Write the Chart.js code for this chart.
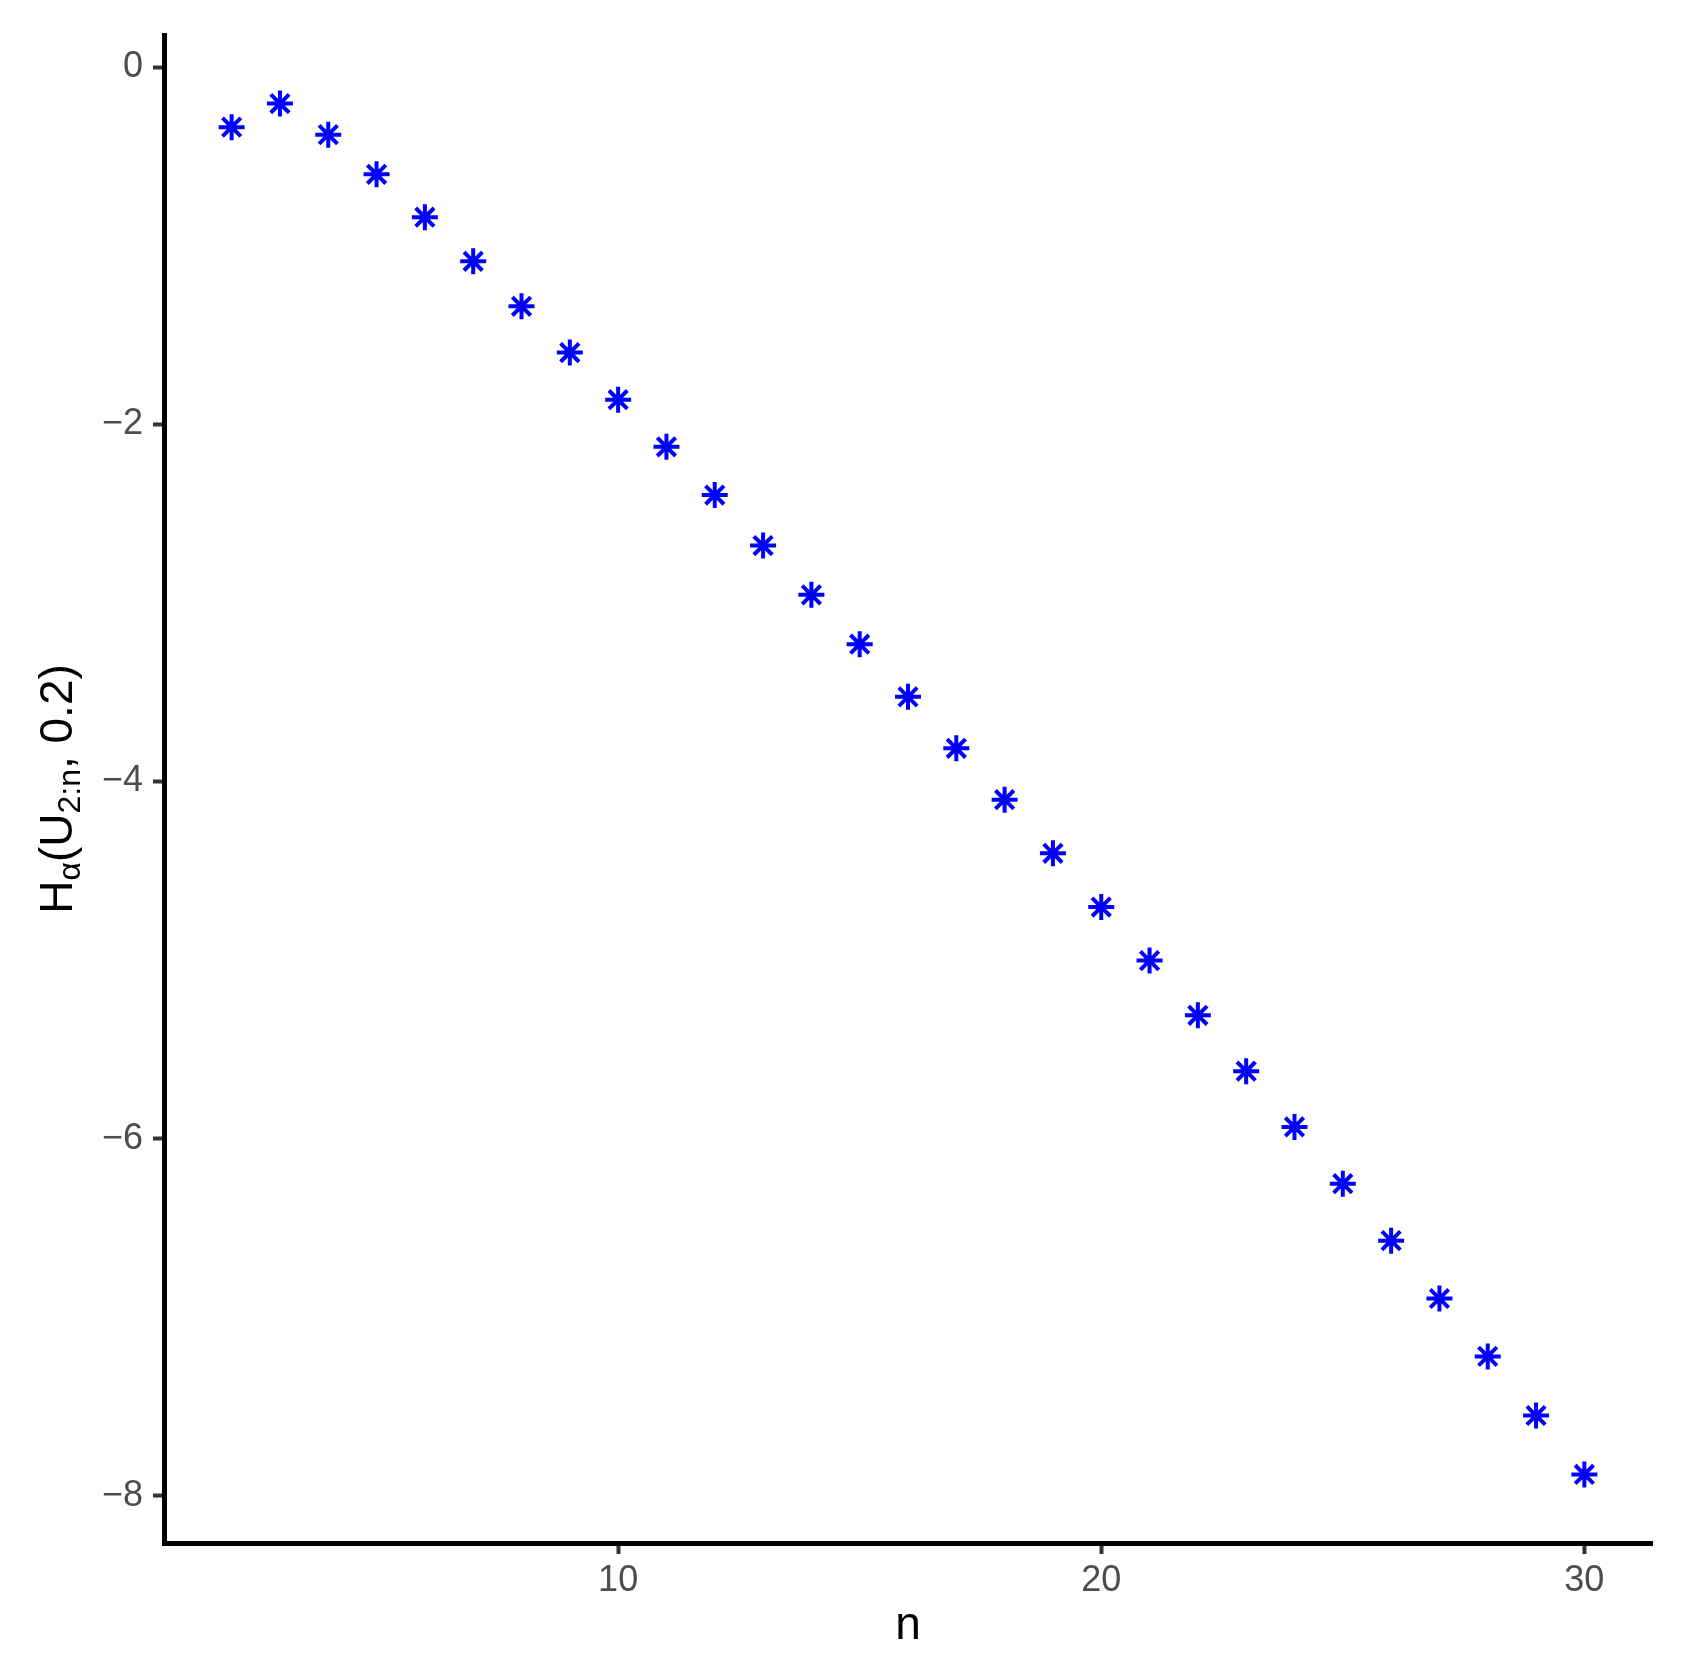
<!DOCTYPE html>
<html>
<head>
<meta charset="utf-8">
<script src="https://cdn.jsdelivr.net/npm/chart.js@4/dist/chart.umd.min.js"></script>
<style>
  html, body { margin:0; padding:0; background:#fff; }
  #wrap { width:1683px; height:1661px; position:relative; }
</style>
</head>
<body>
<div id="wrap"><canvas id="c" width="1683" height="1661"></canvas></div>
<script>
// values
const nValues = [2,3,4,5,6,7,8,9,10,11,12,13,14,15,16,17,18,19,20,21,22,23,24,25,26,27,28,29,30];
const hValues = [-0.336,-0.204,-0.378,-0.600,-0.840,-1.087,-1.339,-1.598,-1.862,-2.126,-2.396,-2.679,-2.955,-3.231,
                 -3.526,-3.814,-4.102,-4.402,-4.703,-5.003,-5.309,-5.622,-5.934,-6.252,-6.571,-6.895,-7.219,-7.550,-7.880];
const xTicks = [10,20,30];
const yTicks = [-8,-6,-4,-2,0];

const FONT = '"Liberation Sans", Arial, Helvetica, sans-serif';

// axis titles (y title has sub-scripts, so drawn by hand)
const titles = {
  id:'titles',
  afterDraw(chart){
    const ctx = chart.ctx, a = chart.chartArea;
    ctx.save();
    ctx.fillStyle = '#000';
    ctx.textBaseline = 'alphabetic';
    ctx.textAlign = 'center';
    ctx.font = '46px ' + FONT;
    ctx.fillText('n', (a.left + a.right)/2, 1639);

    const parts = [['H',46,0],['\u03b1',32,8],['(U',46,0],['2:n',32,8],[', 0.2)',46,0]];
    let total = 0;
    parts.forEach(p => { ctx.font = p[1]+'px '+FONT; p.push(ctx.measureText(p[0]).width); total += p[3]; });
    ctx.translate(72, (a.top + a.bottom)/2);
    ctx.rotate(-Math.PI/2);
    ctx.textAlign = 'left';
    let x = -total/2;
    parts.forEach(p => { ctx.font = p[1]+'px '+FONT; ctx.fillText(p[0], x, p[2]); x += p[3]; });
    ctx.restore();
  }
};

const minus = v => String(v).replace('-', '\u2212');

new Chart(document.getElementById('c'), {
  type:'scatter',
  data:{datasets:[{
    data: nValues.map((n,i)=>({x:n, y:hValues[i]})),
    pointStyle:'star', pointRadius:13, pointHoverRadius:13,
    borderColor:'#0000ff', backgroundColor:'#0000ff', borderWidth:4
  }]},
  options:{
    responsive:false, animation:false, events:[],
    plugins:{legend:{display:false}, tooltip:{enabled:false}},
    layout:{padding:{top:35, right:31, left:0, bottom:0}},
    scales:{
      x:{
        type:'linear', min:0.6, max:31.4,
        afterBuildTicks: s => { s.ticks = xTicks.map(v=>({value:v})); },
        afterFit: s => { s.height = 118; },
        grid:{display:true, drawOnChartArea:false, drawTicks:true, tickLength:11, tickColor:'#333333', tickWidth:4},
        border:{display:true, color:'#000', width:5},
        ticks:{font:{size:36, family:FONT}, color:'#4d4d4d', padding:5, maxRotation:0, callback:minus}
      },
      y:{
        type:'linear', min:-8.264, max:0.18,
        afterBuildTicks: s => { s.ticks = yTicks.map(v=>({value:v})); },
        afterFit: s => { s.width = 164; },
        grid:{display:true, drawOnChartArea:false, drawTicks:true, tickLength:11, tickColor:'#333333', tickWidth:4},
        border:{display:true, color:'#000', width:5},
        ticks:{font:{size:36, family:FONT}, color:'#4d4d4d', padding:10, callback:minus}
      }
    }
  },
  plugins:[titles]
});
</script>
</body>
</html>
